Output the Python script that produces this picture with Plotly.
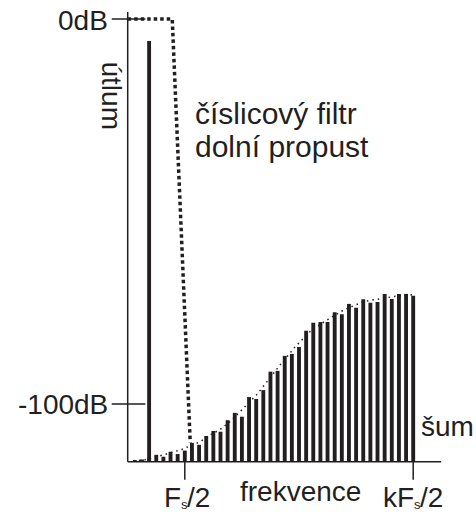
import plotly.graph_objects as go

# ---------------- data ----------------
# frequency unit: Fs/2 = 1, k = 5  -> kFs/2 = 5
noise_freq = [n / 8 for n in range(1, 41)]
noise_db = [-114.6, -114.4, -114.0, -113.2, -113.7, -112.4, -113.0, -112.1,
            -110.1, -110.6, -108.3, -107.0, -107.2, -104.2, -102.3, -103.3,
            -98.2, -98.7, -96.4, -91.6, -91.4, -87.5, -87.0, -85.2,
            -81.0, -78.9, -78.7, -78.7, -76.2, -76.7, -74.0, -75.0,
            -72.8, -73.7, -73.5, -71.4, -72.7, -71.4, -71.4, -71.9]

signal_freq = [0.375]
signal_db = [-5.7]

filter_freq = [0.0, 0.78, 1.095]
filter_db = [0.0, 0.0, -110.0]

env_freq = [0.1, 0.3, 0.6, 0.95, 1.27, 1.45, 1.62, 1.8, 2.0, 2.27, 2.45, 2.65,
            2.93, 3.22, 3.51, 3.78, 4.13, 4.36, 4.65, 5.0]
env_db = [-114.8, -114.5, -113.3, -111.8, -109.8, -108.0, -106.6, -104.5,
          -101.5, -97.4, -94.0, -90.2, -85.2, -80.8, -78.0, -75.6, -73.4,
          -72.8, -72.1, -71.6]

floor_db = -115.0
y_ticks_db = [0, -100]
y_tick_labels = ["0dB", "-100dB"]
x_ticks = [1, 5]
x_tick_main = ["F", "kF"]
x_tick_sub = ["s", "s"]
x_tick_tail = ["/2", "/2"]

INK = "#231f20"
FONT = "Liberation Sans, Arial, Helvetica, sans-serif"
W, H = 476, 512

fig = go.Figure()

# noise bars
fig.add_trace(go.Bar(x=noise_freq, y=[d - floor_db for d in noise_db], base=floor_db,
                     width=0.068, marker=dict(color=INK, line=dict(width=0))))
# signal bar
fig.add_trace(go.Bar(x=signal_freq, y=[d - floor_db for d in signal_db], base=floor_db,
                     width=0.068, marker=dict(color=INK, line=dict(width=0))))

# noise envelope (fine dots)
fig.add_trace(go.Scatter(x=env_freq, y=env_db, mode="lines",
                         line=dict(color=INK, width=1.5, dash="1.5px,4px"),
                         cliponaxis=False))
# filter response (heavy dots)
fig.add_trace(go.Scatter(x=filter_freq, y=filter_db, mode="lines",
                         line=dict(color=INK, width=3.5, dash="3.5px,3px"),
                         cliponaxis=False))

# axes
fig.add_trace(go.Scatter(x=[0, 0], y=[1.8, floor_db], mode="lines",
                         line=dict(color=INK, width=1.5), cliponaxis=False))
fig.add_trace(go.Scatter(x=[0, 5.49], y=[floor_db, floor_db], mode="lines",
                         line=dict(color=INK, width=1.5), cliponaxis=False))
for yt in y_ticks_db:
    fig.add_trace(go.Scatter(x=[-0.28, 0.31], y=[yt, yt], mode="lines",
                             line=dict(color=INK, width=1.5), cliponaxis=False))
for xt in x_ticks:
    fig.add_trace(go.Scatter(x=[xt, xt], y=[-113.2, -119.7], mode="lines",
                             line=dict(color=INK, width=1.5), cliponaxis=False))


def P(px, py):
    return px / W, 1 - py / H


ann = []


def text(t, px, py, size=28, xa="left", ya="middle", angle=0, pad=1):
    x, y = P(px, py)
    ann.append(dict(text=t, x=x, y=y, xref="paper", yref="paper", xanchor=xa,
                    yanchor=ya, showarrow=False, textangle=angle, borderpad=pad,
                    font=dict(family=FONT, size=size, color=INK)))


text(y_tick_labels[0], 110, 20, xa="right")
text(y_tick_labels[1], 110, 404, xa="right")
text("útlum", 111.5, 95, xa="center", angle=90)
text("číslicový filtr", 193, 113, size=30)
text("dolní propust", 193, 146, size=30)
text("šum", 419, 426)
text("frekvence", 300, 491, xa="center")

# x tick labels: main letter, tiny subscript, tail
text(x_tick_main[0], 162.5, 497, pad=0)
text(x_tick_sub[0], 180, 504, size=13, pad=0)
text(x_tick_tail[0], 186, 497, pad=0)
text(x_tick_main[1], 381.5, 497, pad=0)
text(x_tick_sub[1], 412.6, 504, size=13, pad=0)
text(x_tick_tail[1], 418.5, 497, pad=0)

fig.update_layout(
    width=W, height=H, margin=dict(l=0, r=0, t=0, b=0),
    paper_bgcolor="white", plot_bgcolor="white", showlegend=False,
    barmode="overlay",
    xaxis=dict(visible=False, range=[-127.7 / 57.1, (W - 127.7) / 57.1], fixedrange=True),
    yaxis=dict(visible=False, range=[-(H - 19) / 3.85, 19 / 3.85], fixedrange=True),
    annotations=ann,
)

fig.write_html("out.html", config={"displayModeBar": False},
               post_script="document.body.style.margin='0px';"
                           "document.body.style.overflow='hidden';")
